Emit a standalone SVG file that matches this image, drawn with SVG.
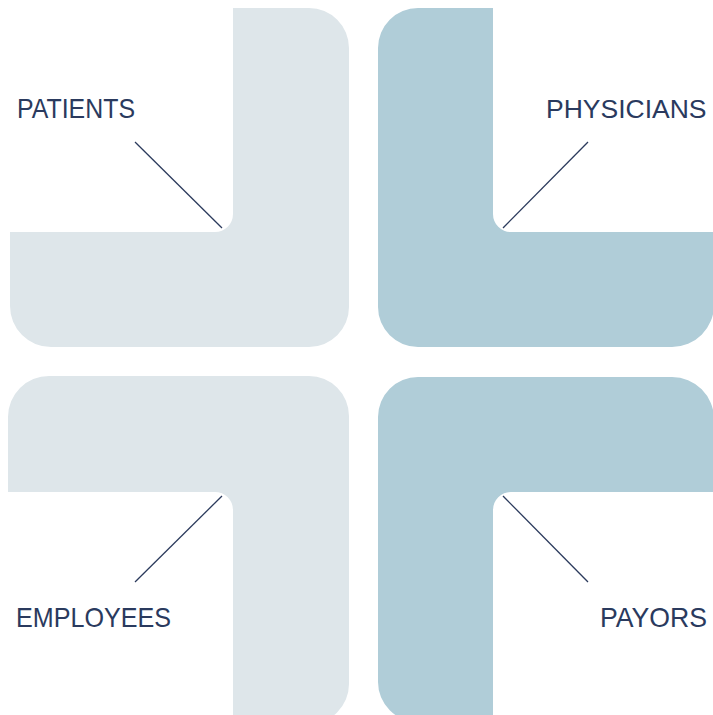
<svg xmlns="http://www.w3.org/2000/svg" width="713" height="715" viewBox="0 0 713 715">
<style>
.light{fill:#DEE6EA}
.blue{fill:#B0CDD8}
.lbl{font-family:"Liberation Sans",Arial,sans-serif;font-size:28px;fill:#2A3A5E}
.conn line{stroke:#2B3A5C;stroke-width:1.3}
</style>
<rect width="713" height="715" fill="#FFFFFF"/>
<g id="patients">
<path class="light" d="M233,8 H309 A40,40 0 0 1 349,48 V307 A40,40 0 0 1 309,347 H51 A41,41 0 0 1 10,306 V232 H215 A18,18 0 0 0 233,214 Z"/>
<text class="lbl" x="17" y="118" textLength="118" lengthAdjust="spacingAndGlyphs">PATIENTS</text>
</g>
<g id="physicians">
<path class="blue" d="M493,8 V214 A18,18 0 0 0 511,232 H714 V305 A42,42 0 0 1 672,347 H418 A40,40 0 0 1 378,307 V48 A40,40 0 0 1 418,8 Z"/>
<text class="lbl" x="546" y="118" style="font-size:26.5px">PHYSICIANS</text>
</g>
<g id="employees">
<path class="light" d="M49,376 H309 A40,40 0 0 1 349,416 V684 A40,40 0 0 1 309,724 H233 V510 A18,18 0 0 0 215,492 H8 V417 A41,41 0 0 1 49,376 Z"/>
<text class="lbl" x="16" y="627" textLength="155" lengthAdjust="spacingAndGlyphs">EMPLOYEES</text>
</g>
<g id="payors">
<path class="blue" d="M418,377 H672 A42,42 0 0 1 714,419 V492 H511 A18,18 0 0 0 493,510 V722 H418 A40,40 0 0 1 378,682 V417 A40,40 0 0 1 418,377 Z"/>
<text class="lbl" x="600" y="627" textLength="107" lengthAdjust="spacingAndGlyphs">PAYORS</text>
</g>
<g id="connectors" class="conn">
<line x1="135" y1="142" x2="222" y2="228"/>
<line x1="588" y1="142" x2="503" y2="228"/>
<line x1="135" y1="582" x2="222" y2="496"/>
<line x1="588" y1="582" x2="503" y2="496"/>
</g>
</svg>
